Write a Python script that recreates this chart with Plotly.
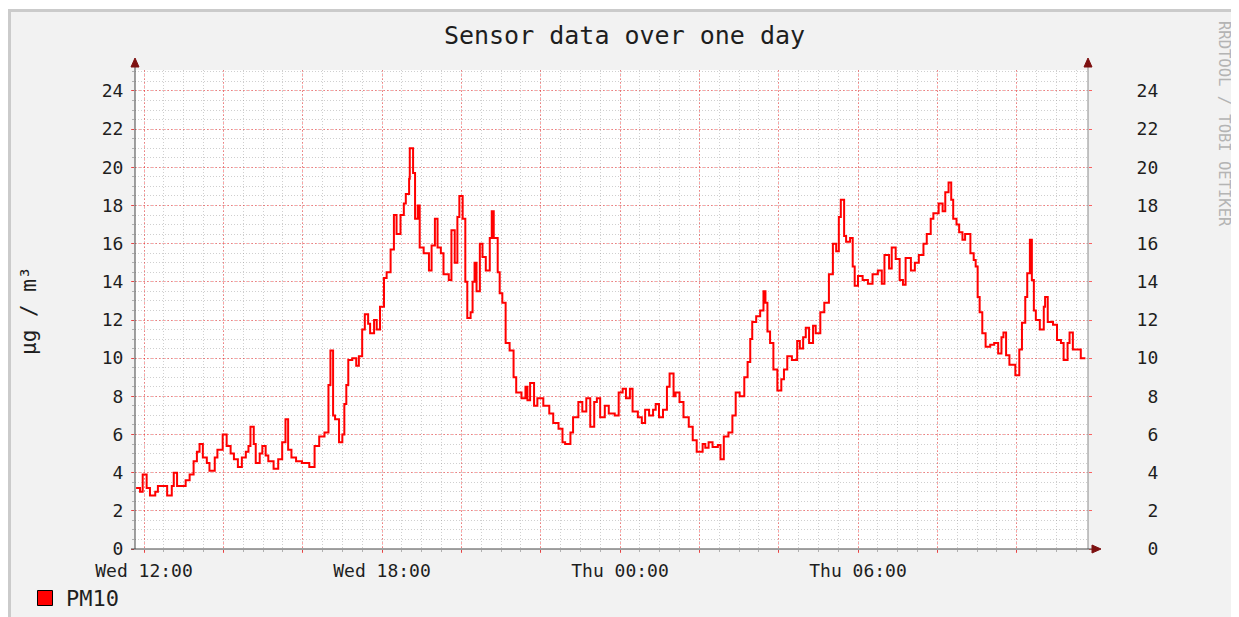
import plotly.graph_objects as go

# ---------------- data ----------------
wed_date = "2021-03-03"   # a Wednesday
thu_date = "2021-03-04"   # the following Thursday

times_wed = [
    "11:48", "11:54", "11:58", "12:04", "12:09", "12:17", "12:21", "12:29", "12:35", "12:42",
    "12:45", "12:50", "12:59", "13:03", "13:09", "13:15", "13:20", "13:24", "13:29", "13:35",
    "13:39", "13:47", "13:51", "13:59", "14:05", "14:11", "14:16", "14:22", "14:28", "14:34",
    "14:38", "14:41", "14:46", "14:49", "14:55", "14:59", "15:04", "15:08", "15:16", "15:23",
    "15:29", "15:34", "15:38", "15:43", "15:50", "15:59", "16:10", "16:18", "16:25", "16:33",
    "16:39", "16:42", "16:46", "16:49", "16:55", "17:00", "17:03", "17:06", "17:09", "17:15",
    "17:21", "17:25", "17:30", "17:34", "17:39", "17:42", "17:48", "17:52", "17:57", "18:03",
    "18:07", "18:13", "18:18", "18:22", "18:28", "18:33", "18:36", "18:41", "18:42", "18:47",
    "18:50", "18:54", "18:57", "19:03", "19:11", "19:15", "19:20", "19:24", "19:29", "19:33",
    "19:41", "19:45", "19:50", "19:54", "19:57", "20:02", "20:06", "20:09", "20:14", "20:17",
    "20:20", "20:23", "20:28", "20:32", "20:37", "20:43", "20:46", "20:49", "20:55", "20:58",
    "21:02", "21:07", "21:13", "21:19", "21:23", "21:31", "21:37", "21:40", "21:44", "21:50",
    "21:55", "22:04", "22:13", "22:19", "22:27", "22:33", "22:37", "22:45", "22:49", "22:57",
    "23:03", "23:09", "23:15", "23:21", "23:25", "23:30", "23:37", "23:43", "23:52", "23:58",
]
pm10_wed = [
    3.2, 3.0, 3.9, 3.2, 2.8, 3.0, 3.3, 3.3, 2.8, 3.3,
    4.0, 3.3, 3.3, 3.6, 3.9, 4.6, 5.1, 5.5, 4.8, 4.5,
    4.1, 4.8, 5.2, 6.0, 5.4, 5.0, 4.7, 4.3, 4.8, 5.1,
    5.4, 6.4, 5.5, 4.5, 5.0, 5.4, 4.9, 4.6, 4.2, 4.7,
    5.6, 6.8, 5.2, 4.8, 4.6, 4.5, 4.3, 5.4, 5.9, 6.1,
    8.6, 10.4, 7.0, 6.8, 5.6, 6.0, 7.6, 8.6, 9.9, 10.0,
    9.6, 10.1, 11.5, 12.3, 11.8, 11.3, 12.0, 11.5, 12.7, 14.2,
    14.5, 15.7, 17.5, 16.5, 17.5, 18.1, 18.6, 19.4, 21.0, 19.7,
    17.3, 18.0, 15.8, 15.5, 14.6, 15.9, 17.3, 15.8, 15.5, 14.4,
    14.1, 16.7, 15.0, 17.4, 18.5, 17.3, 14.0, 12.1, 12.4, 14.0,
    15.0, 13.5, 16.0, 15.3, 14.6, 16.3, 17.7, 16.3, 14.5, 13.4,
    12.9, 10.8, 10.4, 9.0, 8.2, 7.9, 8.5, 7.8, 8.7, 7.5,
    7.9, 7.5, 7.1, 6.6, 6.3, 5.6, 5.5, 6.1, 6.9, 7.7,
    7.2, 7.9, 6.4, 7.7, 7.9, 6.9, 7.5, 7.1, 7.0, 8.2,
]

times_thu = [
    "00:04", "00:09", "00:15", "00:19", "00:27", "00:33", "00:38", "00:44", "00:50", "00:54",
    "00:59", "01:05", "01:11", "01:15", "01:21", "01:24", "01:30", "01:36", "01:44", "01:50",
    "01:56", "02:05", "02:09", "02:14", "02:20", "02:28", "02:32", "02:37", "02:44", "02:50",
    "02:55", "03:01", "03:08", "03:13", "03:17", "03:20", "03:26", "03:32", "03:37", "03:40",
    "03:43", "03:47", "03:52", "03:58", "04:04", "04:08", "04:13", "04:20", "04:28", "04:32",
    "04:37", "04:41", "04:46", "04:52", "04:56", "05:03", "05:09", "05:16", "05:22", "05:27",
    "05:31", "05:34", "05:39", "05:42", "05:48", "05:52", "05:55", "06:00", "06:07", "06:15",
    "06:22", "06:30", "06:36", "06:40", "06:47", "06:51", "06:57", "07:03", "07:08", "07:12",
    "07:20", "07:26", "07:32", "07:39", "07:44", "07:50", "07:54", "08:02", "08:08", "08:12",
    "08:17", "08:21", "08:24", "08:29", "08:33", "08:38", "08:42", "08:50", "08:55", "08:58",
    "09:01", "09:04", "09:08", "09:13", "09:20", "09:26", "09:32", "09:37", "09:40", "09:44",
    "09:49", "09:58", "10:04", "10:08", "10:13", "10:16", "10:20", "10:23", "10:26", "10:29",
    "10:35", "10:41", "10:43", "10:47", "10:55", "11:01", "11:07", "11:11", "11:17", "11:20",
    "11:25", "11:29", "11:37", "11:44",
]
pm10_thu = [
    8.4, 7.9, 8.4, 7.2, 6.9, 6.6, 7.3, 7.0, 7.3, 7.6,
    6.9, 7.3, 8.5, 9.2, 8.0, 8.2, 7.7, 6.9, 6.4, 5.7,
    5.1, 5.5, 5.3, 5.6, 5.35, 5.45, 4.7, 5.9, 6.1, 7.0,
    8.2, 8.0, 9.0, 9.8, 11.0, 11.9, 12.2, 12.5, 13.5, 12.9,
    11.4, 10.8, 9.4, 8.3, 8.9, 9.4, 10.1, 9.9, 10.9, 10.5,
    11.1, 11.6, 10.8, 11.7, 11.3, 12.4, 12.9, 14.4, 16.0, 15.6,
    17.4, 18.3, 16.4, 16.1, 16.3, 14.8, 13.8, 14.3, 14.1, 13.9,
    14.4, 14.6, 13.9, 15.4, 14.7, 15.8, 15.2, 14.1, 13.85, 15.25,
    14.6, 15.0, 15.4, 16.0, 16.5, 17.3, 17.6, 18.1, 17.7, 18.7,
    19.2, 18.3, 17.3, 17.0, 16.6, 16.2, 16.5, 15.5, 15.15, 14.8,
    13.2, 12.4, 11.3, 10.6, 10.7, 10.8, 10.25, 11.1, 11.35, 10.15,
    9.65, 9.1, 10.45, 11.85, 13.2, 14.45, 16.2, 14.1, 12.5, 12.0,
    11.5, 12.7, 13.2, 11.9, 11.75, 10.95, 10.8, 9.9, 10.8, 11.35,
    10.45, 10.45, 10.0, 10.0,
]

series_name = "PM10"
tick_times = ["2021-03-03 12:00", "2021-03-03 14:00", "2021-03-03 16:00", "2021-03-03 18:00",
              "2021-03-03 20:00", "2021-03-03 22:00", "2021-03-04 00:00", "2021-03-04 02:00",
              "2021-03-04 04:00", "2021-03-04 06:00", "2021-03-04 08:00", "2021-03-04 10:00"]
tick_labels = ["Wed 12:00", "", "", "Wed 18:00", "", "", "Thu 00:00", "", "", "Thu 06:00", "", ""]
y_ticks = [0, 2, 4, 6, 8, 10, 12, 14, 16, 18, 20, 22, 24]

x_range = ["2021-03-03 11:46:22", "2021-03-04 11:47:54"]
y_range = [0, 25.1]

times = [f"{wed_date} {t}" for t in times_wed] + [f"{thu_date} {t}" for t in times_thu]
pm10 = pm10_wed + pm10_thu

# ---------------- layout helpers (screen pixel coordinates) ----------------
SW, SH = 1239, 617          # browser window
OX, OY = 8, 8               # default page body margin
W, H = SW - OX, SH - OY     # figure size
L, R, T, B = 135, 1088, 70, 549   # plot box in screen pixels


def px(x):
    return (x - L) / (R - L)


def py(y):
    return (B - y) / (B - T)


def cx(x):
    return (x - OX) / W


def cy(y):
    return 1 - (y - OY) / H


MONO = "DejaVu Sans Mono"
TXT = "#1e1e1e"
MAJOR = "rgba(255,0,0,0.36)"
MINOR = "rgba(140,140,140,0.42)"
ARROW = "#7d1010"
LINE_RED = "#ff0000"
P = dict(xref="paper", yref="paper")

fig = go.Figure()
fig.add_trace(go.Scatter(
    x=times, y=pm10, mode="lines", name=series_name, showlegend=False,
    line=dict(color=LINE_RED, width=2, shape="hv"),
))
fig.add_trace(go.Scatter(
    x=[times[0]], y=[None], yaxis="y2", mode="lines", showlegend=False, hoverinfo="skip",
))

shapes = [
    # page frame
    dict(type="line", x0=px(8), x1=px(SW + 5), y0=py(8.5), y1=py(8.5), line=dict(color="white", width=1), **P),
    dict(type="line", x0=px(9.5), x1=px(9.5), y0=py(9), y1=py(SH + 5), line=dict(color="#cbcbcb", width=3), **P),
    dict(type="line", x0=px(8), x1=px(SW + 5), y0=py(10.5), y1=py(10.5), line=dict(color="#cbcbcb", width=3), **P),
    dict(type="line", x0=px(1237.5), x1=px(1237.5), y0=py(9), y1=py(SH + 5), line=dict(color="#bdbdbd", width=2), **P),
    # axes
    dict(type="line", x0=px(135), x1=px(135), y0=py(549), y1=py(63), line=dict(color="#444444", width=1), **P),
    dict(type="line", x0=px(1088), x1=px(1088), y0=py(549), y1=py(63), line=dict(color="#8a8a8a", width=1), **P),
    dict(type="line", x0=px(131), x1=px(1093), y0=py(549), y1=py(549), line=dict(color="#444444", width=1), **P),
    # arrow heads
    dict(type="path", path=f"M {px(131)},{py(67)} L {px(139)},{py(67)} L {px(135)},{py(58)} Z",
         fillcolor=ARROW, line=dict(color=ARROW, width=1), **P),
    dict(type="path", path=f"M {px(1084)},{py(67)} L {px(1092)},{py(67)} L {px(1088)},{py(58)} Z",
         fillcolor=ARROW, line=dict(color=ARROW, width=1), **P),
    dict(type="path", path=f"M {px(1092)},{py(545)} L {px(1092)},{py(553)} L {px(1101)},{py(549)} Z",
         fillcolor=ARROW, line=dict(color=ARROW, width=1), **P),
    # legend swatch
    dict(type="rect", x0=px(37.5), x1=px(52.5), y0=py(590.5), y1=py(605.5),
         fillcolor=LINE_RED, line=dict(color="#000000", width=1), **P),
]

annotations = [
    dict(text="µg / m³", x=px(29), y=py(311), showarrow=False,
         textangle=-90, xanchor="center", yanchor="middle", font=dict(family=MONO, size=21, color=TXT), **P),
    dict(text="RRDTOOL / TOBI OETIKER", x=px(1224), y=py(124), showarrow=False,
         textangle=90, xanchor="center", yanchor="middle", font=dict(family=MONO, size=15.5, color="#b4b4b4"), **P),
    dict(text=series_name, x=px(64), y=py(598), showarrow=False,
         xanchor="left", yanchor="middle", font=dict(family=MONO, size=22, color=TXT), **P),
]

right_labels = [f"{v:>2d}".replace(" ", "\u00a0") for v in y_ticks]

fig.update_layout(
    width=W, height=H,
    margin=dict(l=L - OX, r=SW - R, t=T - OY, b=SH - B, pad=0),
    paper_bgcolor="#f2f2f2", plot_bgcolor="white",
    showlegend=False,
    title=dict(text="Sensor data over one day", x=cx(624.5), xref="container", xanchor="center",
               y=cy(35), yref="container", yanchor="middle",
               font=dict(family=MONO, size=25, color=TXT)),
    xaxis=dict(
        type="date", range=x_range, tickmode="array", tickvals=tick_times, ticktext=tick_labels,
        showgrid=True, gridcolor=MAJOR, griddash="2px,2px", gridwidth=1,
        ticks="outside", ticklen=3, tickcolor="rgba(255,0,0,0.6)", ticklabelstandoff=2,
        tickfont=dict(family=MONO, size=18, color=TXT),
        showline=False, zeroline=False,
        minor=dict(tick0="2021-03-03 12:00", dtick=30 * 60 * 1000, showgrid=True, gridcolor=MINOR,
                   griddash="1px,2px", ticks="outside", ticklen=2, tickcolor="#b0b0b0"),
    ),
    yaxis=dict(
        range=y_range, tickmode="array", tickvals=y_ticks,
        showgrid=True, gridcolor=MAJOR, griddash="2px,2px", gridwidth=1,
        ticks="outside", ticklen=3, tickcolor="rgba(255,0,0,0.6)", ticklabelstandoff=4,
        tickfont=dict(family=MONO, size=18, color=TXT),
        showline=False, zeroline=False,
        minor=dict(tick0=0, dtick=0.5, showgrid=True, gridcolor=MINOR, griddash="1px,2px",
                   ticks="outside", ticklen=2, tickcolor="#b0b0b0"),
    ),
    yaxis2=dict(
        range=y_range, overlaying="y", side="right", tickmode="array", tickvals=y_ticks,
        ticktext=right_labels, showgrid=False, zeroline=False, showline=False,
        ticks="outside", ticklen=3, tickcolor="rgba(255,0,0,0.6)", ticklabelstandoff=41,
        tickfont=dict(family=MONO, size=18, color=TXT),
    ),
    shapes=shapes,
    annotations=annotations,
    hovermode=False,
)

fig.write_html("out.html")
